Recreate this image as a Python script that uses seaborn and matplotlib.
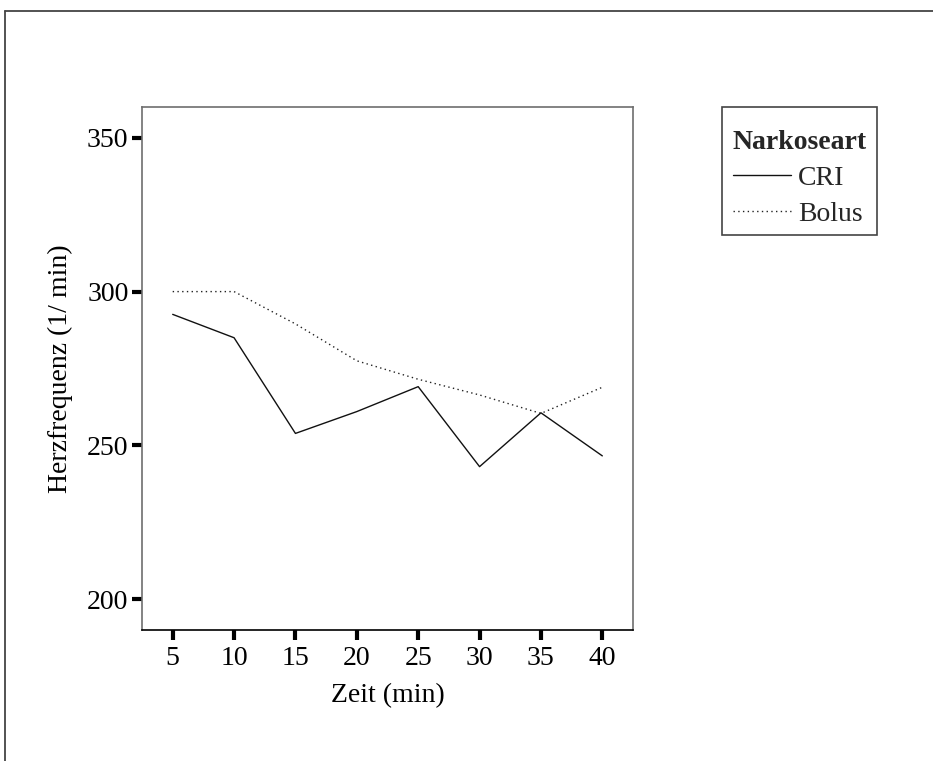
import matplotlib
matplotlib.use("Agg")
import matplotlib.pyplot as plt
from matplotlib.lines import Line2D
from matplotlib.patches import Rectangle
import seaborn as sns
import pandas as pd

# Heart rate over time for two anaesthesia protocols
zeit = [5, 10, 15, 20, 25, 30, 35, 40]
cri = [292.6, 285.0, 253.9, 261.0, 269.1, 243.1, 260.6, 246.6]
bolus = [300.0, 300.0, 289.5, 277.5, 271.5, 266.4, 260.4, 268.9]
gruppen = ["CRI", "Bolus"]
y_ticks = [200, 250, 300, 350]

df = pd.DataFrame({
    "Zeit": zeit * 2,
    "Herzfrequenz": cri + bolus,
    "Narkoseart": ["CRI"] * len(zeit) + ["Bolus"] * len(zeit),
})

sns.set_theme(style="white")
plt.rcParams["font.family"] = ["Liberation Serif", "DejaVu Serif"]

W, H = 933, 761
fig = plt.figure(figsize=(W / 100, H / 100), dpi=100)
ax = fig.add_axes([142 / W, 1 - 630 / H, (633 - 142) / W, (630 - 106.7) / H])

sns.lineplot(
    data=df, x="Zeit", y="Herzfrequenz", hue="Narkoseart", style="Narkoseart",
    hue_order=gruppen, style_order=gruppen,
    palette={"CRI": "#111111", "Bolus": "#222222"},
    dashes={"CRI": "", "Bolus": (1, 2.4)},
    linewidth=1.0, ax=ax, legend=True,
)

ax.set_xlim(2.5, 42.5)
ax.set_ylim(190, 360.1)
ax.set_xticks(zeit)
ax.set_yticks(y_ticks)
ax.tick_params(axis="both", direction="out", length=7.3, width=3, color="black",
               labelsize=20, labelcolor="black", bottom=True, left=True)
ax.tick_params(axis="y", pad=2.4)
ax.tick_params(axis="x", pad=4.0)
ax.set_xlabel("Zeit (min)", fontsize=20, color="black", labelpad=9)
ax.set_ylabel("Herzfrequenz (1/ min)", fontsize=20, color="black", labelpad=10)

for side in ["left", "top", "right"]:
    ax.spines[side].set_color("#6e6e6e")
    ax.spines[side].set_linewidth(1.2)
ax.spines["bottom"].set_color("black")
ax.spines["bottom"].set_linewidth(1.2)

handles, labels = ax.get_legend_handles_labels()
pairs = [(h, l) for h, l in zip(handles, labels) if l in gruppen]
leg = ax.legend(
    [p[0] for p in pairs], [p[1] for p in pairs],
    title="Narkoseart", loc="upper left",
    bbox_to_anchor=(727 / W, 1 - 124 / H), bbox_transform=fig.transFigure,
    fontsize=20, title_fontsize=20, frameon=False,
    handlelength=2.1, handletextpad=0.25,
    borderpad=0.2, labelspacing=0.38, borderaxespad=0,
)
leg.get_title().set_fontweight("bold")
leg._legend_box.align = "left"

# Legend frame
fig.add_artist(Rectangle((722 / W, 1 - 234.5 / H), (877 - 722) / W, (234.5 - 106.7) / H,
                         transform=fig.transFigure, fill=False,
                         edgecolor="#444444", linewidth=1.2))

# Outer panel frame (top and left edges)
fig.add_artist(Line2D([4.5 / W, 1.0], [1 - 10.5 / H, 1 - 10.5 / H],
                      transform=fig.transFigure, color="#444444", linewidth=1.3))
fig.add_artist(Line2D([4.5 / W, 4.5 / W], [0.0, 1 - 10.5 / H],
                      transform=fig.transFigure, color="#444444", linewidth=1.3))

fig.savefig("out.png", dpi=100, facecolor="white")
